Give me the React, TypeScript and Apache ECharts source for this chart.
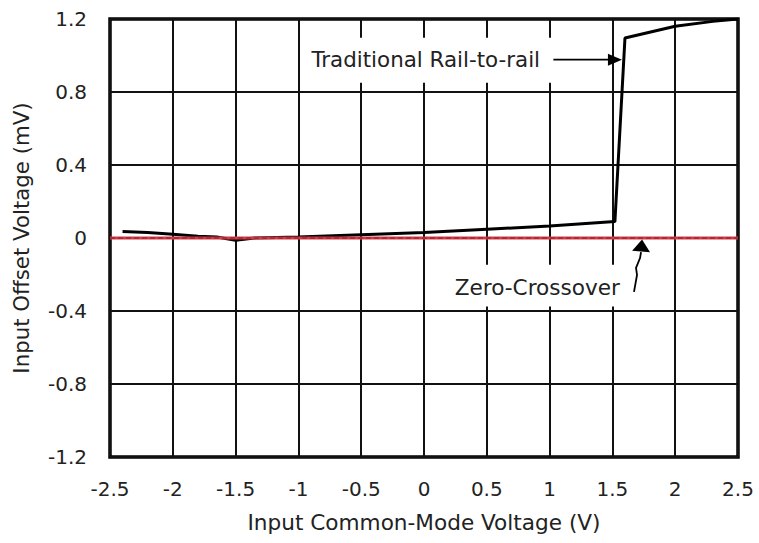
import { useEffect, useRef } from "react";
import * as echarts from "echarts";

// Traditional rail-to-rail curve (x: V, y: mV)
const railX = [-2.4, -2.2, -2.0, -1.8, -1.65, -1.5, -1.35, -1.0, -0.5, 0, 0.5, 1.0, 1.52, 1.6, 2.0, 2.3, 2.5];
const railY = [0.036, 0.03, 0.02, 0.01, 0.005, -0.012, 0, 0.006, 0.018, 0.03, 0.048, 0.066, 0.09, 1.096, 1.16, 1.187, 1.2];

// Zero-crossover curve
const zeroX = [-2.5, 2.5];
const zeroY = [0, 0];

// Annotations (data coordinates)
const railNote = "Traditional Rail-to-rail";
const railNoteEnd = [0.924, 0.977];
const railBox = [[-0.967, 1.097], [1.04, 0.851]];
const railArrow = [[1.03, 0.977], [1.576, 0.977]];

const zeroNote = "Zero-Crossover";
const zeroNoteEnd = [1.56, -0.272];
const zeroBox = [[0.167, -0.146], [1.6, -0.376]];
const zeroArrow = [[1.672, -0.295], [1.696, -0.202], [1.688, -0.164], [1.72, -0.11], [1.728, -0.077], [1.736, -0.008]];

const FONT = "DejaVu Sans";

export default function App() {
  const ref = useRef<HTMLDivElement>(null);
  useEffect(() => {
    if (!ref.current) return;
    const chart = echarts.init(ref.current, null, { renderer: "svg" });
    chart.setOption({
      animation: false,
      backgroundColor: "#fff",
      grid: { left: 110, right: 21, top: 19, bottom: 86, show: true, borderColor: "#000", borderWidth: 3.5 },
      xAxis: {
        type: "value",
        min: -2.5,
        max: 2.5,
        interval: 0.5,
        name: "Input Common-Mode Voltage (V)",
        nameLocation: "middle",
        nameGap: 54,
        nameTextStyle: { fontSize: 21.6, fontFamily: FONT, color: "#222" },
        axisLine: { show: false },
        axisTick: { show: false },
        axisLabel: { fontSize: 20, fontFamily: FONT, color: "#222", margin: 22 },
        splitLine: { show: true, lineStyle: { color: "#111", width: 2 } },
      },
      yAxis: {
        type: "value",
        min: -1.2,
        max: 1.2,
        interval: 0.4,
        name: "Input Offset Voltage (mV)",
        nameLocation: "middle",
        nameGap: 78,
        nameTextStyle: { fontSize: 21.3, fontFamily: FONT, color: "#222" },
        axisLine: { show: false },
        axisTick: { show: false },
        axisLabel: {
          fontSize: 20,
          fontFamily: FONT,
          color: "#222",
          margin: 23,
          formatter: (v: number) => String(Math.round(v * 10) / 10),
        },
        splitLine: { show: true, lineStyle: { color: "#111", width: 2 } },
      },
      series: [
        {
          type: "line",
          data: railX.map((x, i) => [x, railY[i]]),
          symbol: "none",
          lineStyle: { color: "#000", width: 3 },
          z: 3,
        },
        {
          type: "line",
          data: zeroX.map((x, i) => [x, zeroY[i]]),
          symbol: "none",
          lineStyle: { color: "#d33a44", width: 3 },
          z: 4,
        },
        {
          type: "line",
          data: zeroX.map((x, i) => [x, zeroY[i]]),
          symbol: "none",
          lineStyle: { color: "#8a1b24", width: 1.2, type: [5, 3] },
          z: 5,
        },
      ],
    });

    const px = (p: number[]) => chart.convertToPixel({ gridIndex: 0 }, p) as number[];
    const head = (tip: number[], from: number[], len: number, half: number) => {
      const dx = tip[0] - from[0];
      const dy = tip[1] - from[1];
      const d = Math.hypot(dx, dy) || 1;
      const ux = dx / d, uy = dy / d;
      const bx = tip[0] - ux * len, by = tip[1] - uy * len;
      return [tip, [bx - uy * half, by + ux * half], [bx + uy * half, by - ux * half]];
    };
    const boxRect = (b: number[][]) => {
      const a = px(b[0]);
      const c = px(b[1]);
      return {
        type: "rect",
        z: 1,
        silent: true,
        shape: { x: Math.min(a[0], c[0]), y: Math.min(a[1], c[1]), width: Math.abs(c[0] - a[0]), height: Math.abs(c[1] - a[1]) },
        style: { fill: "#fff" },
      };
    };
    const ra = railArrow.map(px);
    const za = zeroArrow.map(px);
    const rn = px(railNoteEnd);
    const zn = px(zeroNoteEnd);
    const zTip = za[za.length - 1];
    const zLineEnd = za.slice(0, -1);
    chart.setOption({
      graphic: [
        boxRect(railBox),
        boxRect(zeroBox),
        {
          type: "text",
          z: 10,
          style: { text: railNote, x: rn[0], y: rn[1], align: "right", verticalAlign: "middle", fontSize: 21.4, fontFamily: FONT, fill: "#222" },
        },
        {
          type: "text",
          z: 10,
          style: { text: zeroNote, x: zn[0], y: zn[1], align: "right", verticalAlign: "middle", fontSize: 21.6, fontFamily: FONT, fill: "#222" },
        },
        {
          type: "line",
          z: 10,
          shape: { x1: ra[0][0], y1: ra[0][1], x2: ra[1][0] - 10, y2: ra[1][1] },
          style: { stroke: "#000", lineWidth: 1.8 },
        },
        {
          type: "polygon",
          z: 10,
          shape: { points: head(ra[1], ra[0], 14, 6) },
          style: { fill: "#000" },
        },
        {
          type: "polyline",
          z: 10,
          shape: { points: zLineEnd },
          style: { stroke: "#000", lineWidth: 1.8, fill: null },
        },
        {
          type: "polygon",
          z: 10,
          shape: { points: head(zTip, zLineEnd[zLineEnd.length - 1], 12, 9) },
          style: { fill: "#000" },
        },
      ],
    });
    return () => chart.dispose();
  }, []);
  return <div ref={ref} style={{ position: "fixed", left: 0, top: 0, width: 759, height: 543 }} />;
}
